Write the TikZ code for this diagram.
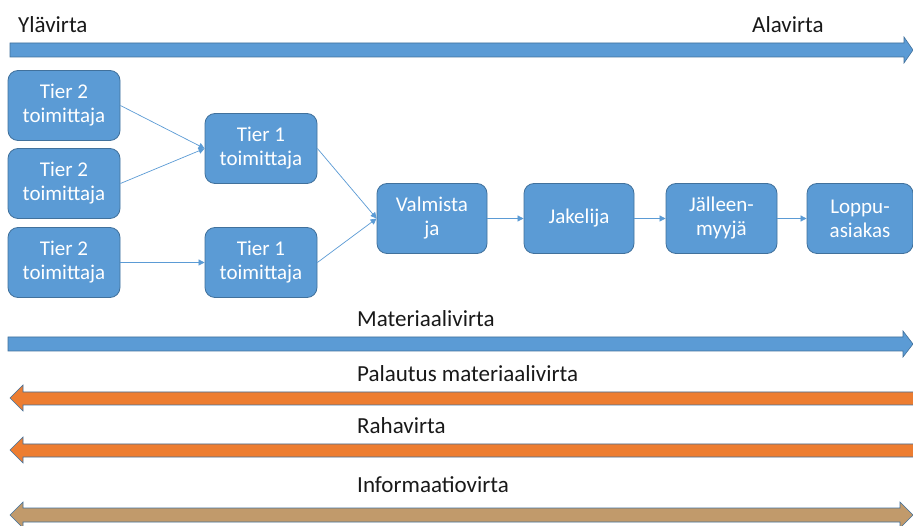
\documentclass[tikz,border=0pt]{standalone}
\usepackage{fontspec}
\setmainfont{Carlito}
\usetikzlibrary{arrows.meta}
\definecolor{boxblue}{HTML}{5B9BD5}
\definecolor{boxedge}{HTML}{41719C}
\definecolor{flowor}{HTML}{ED7D31}
\definecolor{flowtan}{HTML}{C19A6B}
\tikzset{
  box/.style={rounded corners=10pt, fill=boxblue, draw=boxedge, line width=0.8pt,
    minimum width=112pt, minimum height=70pt, inner sep=0pt, text=white,
    align=center, font=\fontsize{21}{24}\selectfont},
  conn/.style={draw=boxblue, line width=0.7pt, -{Triangle[length=6pt,width=6pt]}},
  lbl/.style={anchor=base west, inner sep=0pt, font=\fontsize{23}{26}\selectfont, text=black!90},
  flow/.style={draw=boxedge, line width=0.6pt}
}
\begin{document}
\begin{tikzpicture}[x=1pt,y=1pt]
\useasboundingbox (0,0) rectangle (913,525);
\fill[white] (0,0) rectangle (913,525);
% top arrow
\draw[flow, fill=boxblue] (10,468) -- (904,468) -- (904,462) -- (913,475) -- (904,488) -- (904,482) -- (10,482) -- cycle;
\node[lbl] (up) at (18,492) {Ylävirta};
\node[lbl] (down) at (752,492) {Alavirta};
% boxes
\node[box] (t2a) at (64,419.5) {Tier 2\\toimittaja};
\node[box] (t2b) at (64,341.5) {Tier 2\\toimittaja};
\node[box] (t2c) at (64,262.5) {Tier 2\\toimittaja};
\node[box] (t1a) at (261,376.5) {Tier 1\\toimittaja};
\node[box] (t1b) at (261,262.5) {Tier 1\\toimittaja};
\node[box, minimum width=110pt] (val) at (432,306.5) {Valmista\\ja};
\node[box, minimum width=110pt] (jak) at (579,306.5) {Jakelija};
\node[box, minimum width=111pt] (jal) at (721.5,306.5) {Jälleen-\\myyjä};
\node[box, minimum width=106pt] (lop) at (860,306.5) {Loppu-\\asiakas};
% connectors
\draw[conn] (t2a.east) -- (t1a.west);
\draw[conn] (t2b.east) -- (t1a.west);
\draw[conn] (t2c.east) -- (t1b.west);
\draw[conn] (t1a.east) -- (val.west);
\draw[conn] (t1b.east) -- (val.west);
\draw[conn] (val.east) -- (jak.west);
\draw[conn] (jak.east) -- (jal.west);
\draw[conn] (jal.east) -- (lop.west);
% Materiaalivirta
\node[lbl] (mat) at (357,198) {Materiaalivirta};
\draw[flow, fill=boxblue] (8,174) -- (903,174) -- (903,168) -- (913,181) -- (903,194) -- (903,188) -- (8,188) -- cycle;
% Palautus
\node[lbl] (pal) at (357,143) {Palautus materiaalivirta};
\draw[flow, fill=flowor] (916,120) -- (23,120) -- (23,114) -- (10,127) -- (23,140) -- (23,133) -- (916,133) -- cycle;
% Rahavirta
\node[lbl] (rah) at (357,92) {Rahavirta};
\draw[flow, fill=flowor] (916,68) -- (23,68) -- (23,62) -- (10,75) -- (23,88) -- (23,81) -- (916,81) -- cycle;
% Informaatiovirta
\node[lbl] (inf) at (357,33) {Informaatiovirta};
\draw[flow, fill=flowtan] (23,3) -- (900,3) -- (900,-3) -- (913,10) -- (900,23) -- (900,17) -- (23,17) -- (23,23) -- (10,10) -- (23,-3) -- cycle;
\end{tikzpicture}
\end{document}
